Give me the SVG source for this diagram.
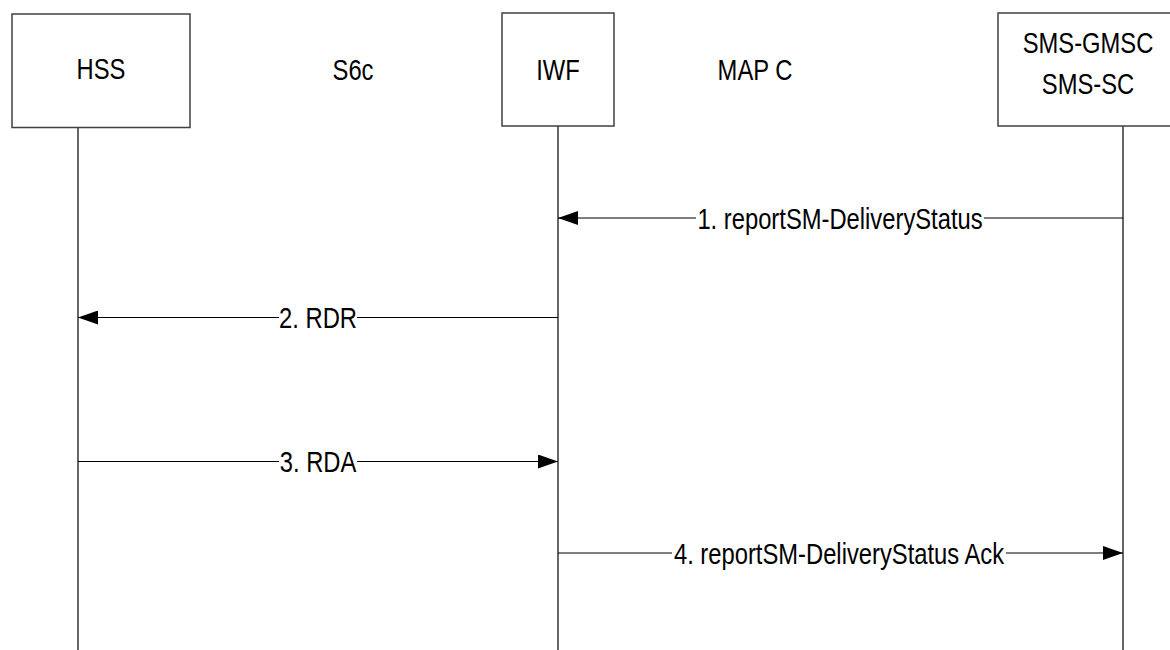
<svg xmlns="http://www.w3.org/2000/svg" width="1170" height="650" viewBox="0 0 1170 650">
  <style>
    .box { fill: #ffffff; stroke: #404040; stroke-width: 1.5; }
    .life { stroke: #000000; stroke-width: 1.2; fill: none; }
    .msg { stroke: #000000; stroke-width: 1.2; fill: none; }
    text { font-family: "Liberation Sans", Arial, sans-serif; font-size: 29px; fill: #000000; text-anchor: middle; }
    .lblbg { fill: #ffffff; }
  </style>
  <defs>
    <marker id="arrow" markerUnits="userSpaceOnUse" markerWidth="20" markerHeight="14" refX="20" refY="7" orient="auto">
      <path d="M0,0 L20,7 L0,14 z" fill="#000000"/>
    </marker>
  </defs>
  <rect width="1170" height="650" fill="#ffffff"/>

  <g id="lifelines">
    <line class="life" x1="78" y1="127" x2="78" y2="650"/>
    <line class="life" x1="558" y1="126" x2="558" y2="650"/>
    <line class="life" x1="1123" y1="126" x2="1123" y2="650"/>
  </g>

  <g id="node-hss">
    <rect class="box" x="12" y="14" width="178" height="113.5"/>
    <text transform="translate(101,79) scale(0.82,1)">HSS</text>
  </g>
  <g id="node-iwf">
    <rect class="box" x="502" y="13" width="112" height="113"/>
    <text transform="translate(558,80) scale(0.82,1)">IWF</text>
  </g>
  <g id="node-sms">
    <rect class="box" x="998" y="13" width="180" height="113"/>
    <text transform="translate(1088,53) scale(0.82,1)">SMS-GMSC</text>
    <text transform="translate(1088,94) scale(0.82,1)">SMS-SC</text>
  </g>
  <g id="label-s6c">
    <text transform="translate(353,80) scale(0.82,1)">S6c</text>
  </g>
  <g id="label-mapc">
    <text transform="translate(755,80) scale(0.82,1)">MAP C</text>
  </g>

  <g id="connectors">
    <g id="msg1">
      <line class="msg" x1="1123" y1="218" x2="558" y2="218" marker-end="url(#arrow)"/>
      <rect class="lblbg" x="696" y="203" width="288" height="30"/>
      <text transform="translate(840,228.5) scale(0.82,1)">1. reportSM-DeliveryStatus</text>
    </g>
    <g id="msg2">
      <line class="msg" x1="558" y1="317.5" x2="78" y2="317.5" marker-end="url(#arrow)"/>
      <rect class="lblbg" x="279" y="302" width="78" height="30"/>
      <text transform="translate(318,328) scale(0.82,1)">2. RDR</text>
    </g>
    <g id="msg3">
      <line class="msg" x1="78" y1="461.5" x2="558" y2="461.5" marker-end="url(#arrow)"/>
      <rect class="lblbg" x="279" y="446" width="78" height="30"/>
      <text transform="translate(318,472) scale(0.82,1)">3. RDA</text>
    </g>
    <g id="msg4">
      <line class="msg" x1="558" y1="553" x2="1123" y2="553" marker-end="url(#arrow)"/>
      <rect class="lblbg" x="672" y="538" width="334" height="30"/>
      <text transform="translate(839,563.5) scale(0.82,1)">4. reportSM-DeliveryStatus Ack</text>
    </g>
  </g>
</svg>
